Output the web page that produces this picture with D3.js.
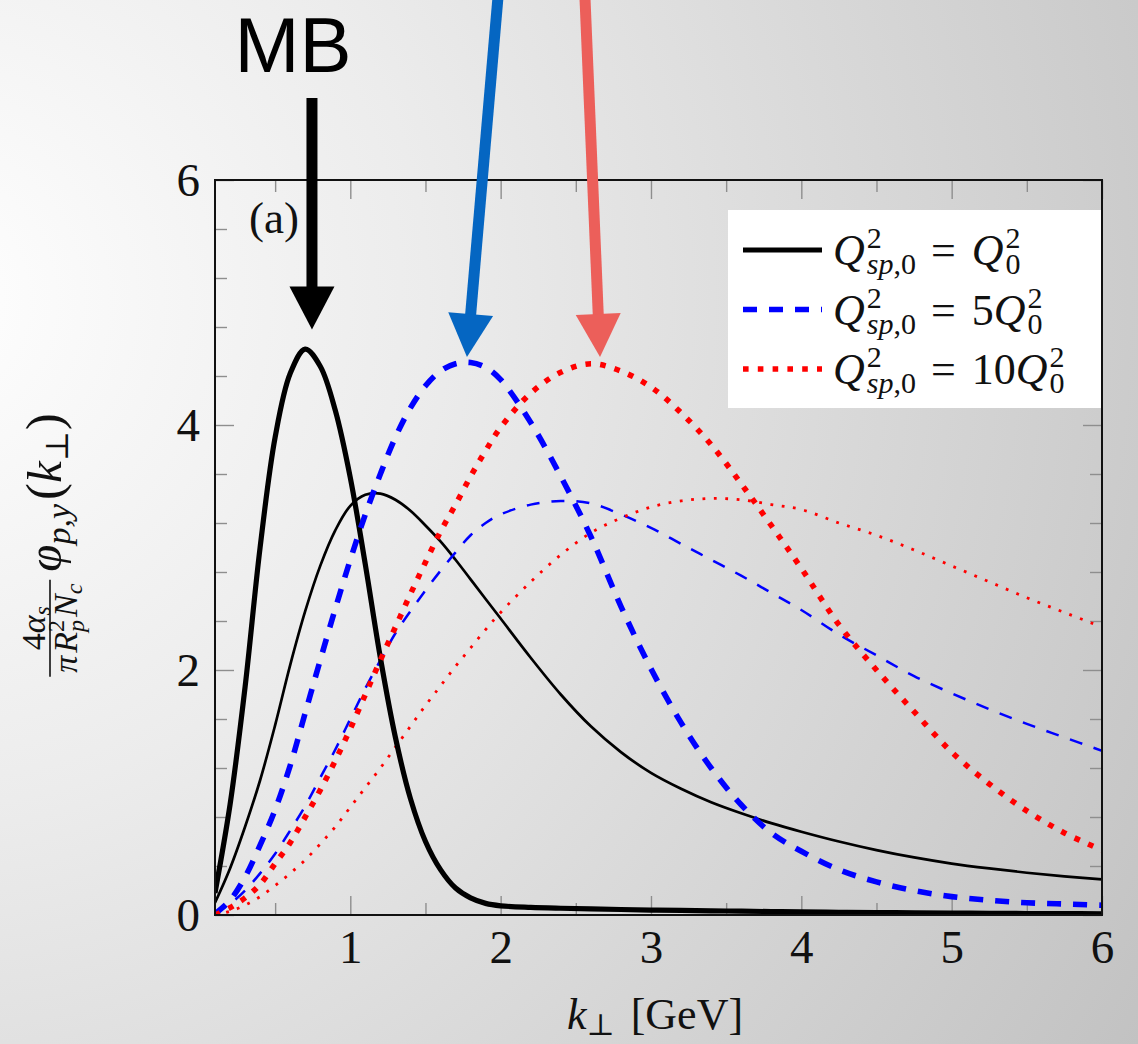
<!DOCTYPE html>
<html>
<head>
<meta charset="utf-8">
<script src="https://cdn.jsdelivr.net/npm/d3@7"></script>
<style>
  html, body { margin: 0; padding: 0; background: #ffffff; }
  svg { display: block; }
</style>
</head>
<body>
<svg id="chart" width="1138" height="1044"></svg>
<script>
// Transverse momentum grid (GeV) shared by every curve
const kPerp = [0.1, 0.2, 0.3, 0.4, 0.5, 0.6, 0.7, 0.8, 0.9, 1.0,
               1.1, 1.2, 1.3, 1.4, 1.5, 1.6, 1.7, 1.8, 1.9, 2.0,
               2.2, 2.4, 2.6, 2.8, 3.0, 3.2, 3.4, 3.6, 3.8, 4.0,
               4.25, 4.5, 4.75, 5.0, 5.25, 5.5, 5.75, 6.0];

// Q^2_{sp,0} = Q0^2  (thick: MB initial condition, thin: evolved)
const blackThick = [0.18, 0.9, 1.86, 3.0, 3.9, 4.42, 4.62, 4.48, 4.12, 3.57,
                    2.86, 2.1, 1.45, 0.95, 0.6, 0.37, 0.22, 0.14, 0.095, 0.075,
                    0.062, 0.055, 0.05, 0.045, 0.04, 0.037, 0.034, 0.031, 0.028, 0.025,
                    0.022, 0.02, 0.018, 0.016, 0.014, 0.012, 0.011, 0.01];
const blackThin = [0.1, 0.38, 0.72, 1.1, 1.55, 2.04, 2.48, 2.85, 3.14, 3.34,
                   3.43, 3.44, 3.39, 3.3, 3.18, 3.05, 2.9, 2.74, 2.58, 2.42,
                   2.1, 1.8, 1.54, 1.33, 1.16, 1.03, 0.92, 0.83, 0.75, 0.68,
                   0.6, 0.53, 0.47, 0.42, 0.38, 0.345, 0.315, 0.29];

// Q^2_{sp,0} = 5 Q0^2
const blueThick = [0.01, 0.12, 0.31, 0.57, 0.86, 1.22, 1.65, 2.08, 2.5, 2.9,
                   3.27, 3.6, 3.9, 4.14, 4.32, 4.44, 4.5, 4.51, 4.47, 4.37,
                   4.02, 3.58, 3.09, 2.52, 2.01, 1.57, 1.2, 0.9, 0.67, 0.52,
                   0.37, 0.27, 0.2, 0.15, 0.12, 0.1, 0.09, 0.08];
const blueThin = [0.01, 0.09, 0.2, 0.34, 0.5, 0.69, 0.89, 1.12, 1.35, 1.6,
                  1.85, 2.08, 2.3, 2.48, 2.65, 2.81, 2.96, 3.1, 3.2, 3.27,
                  3.35, 3.38, 3.36, 3.27, 3.16, 3.03, 2.9, 2.77, 2.63, 2.49,
                  2.29, 2.12, 1.95, 1.81, 1.68, 1.56, 1.45, 1.34];

// Q^2_{sp,0} = 10 Q0^2
const redThick = [0.0, 0.06, 0.14, 0.25, 0.42, 0.59, 0.8, 1.02, 1.26, 1.52,
                  1.8, 2.08, 2.35, 2.62, 2.88, 3.13, 3.35, 3.58, 3.79, 3.98,
                  4.26, 4.43, 4.5, 4.44, 4.31, 4.1, 3.84, 3.52, 3.18, 2.83,
                  2.37, 2.0, 1.66, 1.33, 1.07, 0.85, 0.67, 0.53];
const redThin = [0.0, 0.03, 0.08, 0.15, 0.24, 0.34, 0.45, 0.58, 0.72, 0.88,
                 1.04, 1.2, 1.37, 1.54, 1.71, 1.87, 2.03, 2.18, 2.33, 2.47,
                 2.72, 2.94, 3.12, 3.24, 3.33, 3.38, 3.4, 3.39, 3.35, 3.31,
                 3.2, 3.1, 2.98, 2.85, 2.72, 2.59, 2.47, 2.35];

// Axis ticks
const xMajorTicks = [1, 2, 3, 4, 5, 6];
const xMinorTicks = [0.5, 1.5, 2.5, 3.5, 4.5, 5.5];
const yMajorTicks = [0, 2, 4, 6];
const yMinorTicks = [0.4, 0.8, 1.2, 1.6, 2.4, 2.8, 3.2, 3.6, 4.4, 4.8, 5.2, 5.6];

// Legend coefficients in front of Q0^2
const legendCoef = ["", "5", "10"];

// Arrow annotations (data coordinates of tail and tip)
const arrowLabels = ["MB", "", ""];
const arrowTailK = [0.745, 1.992, 2.556];
const arrowTailV = [6.67, 7.63, 7.63];
const arrowTipK = [0.745, 1.776, 2.661];
const arrowTipV = [4.78, 4.555, 4.555];

const W = 1138, H = 1044;
const plot = { left: 215, right: 1102, top: 180, bottom: 915 };
const serif = "'Liberation Serif', 'DejaVu Serif', serif";

const svg = d3.select("#chart").attr("font-family", serif);
const defs = svg.append("defs");

// Soft grey backdrop
const grad = defs.append("radialGradient").attr("id", "bg")
  .attr("gradientUnits", "userSpaceOnUse")
  .attr("cx", -80).attr("cy", 300).attr("r", 1450);
grad.append("stop").attr("offset", 0).attr("stop-color", "#ffffff");
grad.append("stop").attr("offset", 0.35).attr("stop-color", "#ececec");
grad.append("stop").attr("offset", 1).attr("stop-color", "#c1c1c1");
svg.append("rect").attr("width", W).attr("height", H).attr("fill", "url(#bg)");

defs.append("clipPath").attr("id", "plotClip").append("rect")
  .attr("x", plot.left).attr("y", plot.top)
  .attr("width", plot.right - plot.left).attr("height", plot.bottom - plot.top);

const x = d3.scaleLinear().domain([0.1, 6]).range([plot.left, plot.right]);
const y = d3.scaleLinear().domain([0, 6]).range([plot.bottom, plot.top]);

// ---- ticks on all four sides, pointing inward ----
const tickColor = "#8e8e8e";
function styleAxis(g) {
  g.select(".domain").remove();
  g.selectAll(".tick line").attr("stroke", tickColor).attr("stroke-width", 1.4);
  g.selectAll(".tick text").attr("fill", "#111").attr("font-family", serif).attr("font-size", 47);
}
const major = 19, minor = 12;

svg.append("g").attr("transform", `translate(0,${plot.bottom})`)
  .call(d3.axisBottom(x).tickValues(xMinorTicks).tickSize(-minor).tickFormat(""))
  .call(styleAxis);
svg.append("g").attr("transform", `translate(0,${plot.bottom})`)
  .call(d3.axisBottom(x).tickValues(xMajorTicks).tickSize(-major).tickPadding(15).tickFormat(d3.format("d")))
  .call(styleAxis);
svg.append("g").attr("transform", `translate(0,${plot.top})`)
  .call(d3.axisTop(x).tickValues(xMinorTicks).tickSize(-minor).tickFormat(""))
  .call(styleAxis);
svg.append("g").attr("transform", `translate(0,${plot.top})`)
  .call(d3.axisTop(x).tickValues(xMajorTicks).tickSize(-major).tickFormat(""))
  .call(styleAxis);

svg.append("g").attr("transform", `translate(${plot.left},0)`)
  .call(d3.axisLeft(y).tickValues(yMinorTicks).tickSize(-minor).tickFormat(""))
  .call(styleAxis);
svg.append("g").attr("transform", `translate(${plot.left},0)`)
  .call(d3.axisLeft(y).tickValues(yMajorTicks).tickSize(-major).tickPadding(15).tickFormat(d3.format("d")))
  .call(styleAxis);
svg.append("g").attr("transform", `translate(${plot.right},0)`)
  .call(d3.axisRight(y).tickValues(yMinorTicks).tickSize(-minor).tickFormat(""))
  .call(styleAxis);
svg.append("g").attr("transform", `translate(${plot.right},0)`)
  .call(d3.axisRight(y).tickValues(yMajorTicks).tickSize(-major).tickFormat(""))
  .call(styleAxis);

// ---- curves ----
const series = [
  { values: blackThin,  color: "#000000", width: 2.7, dash: null },
  { values: blueThin,   color: "#0000ff", width: 2.5, dash: "13,12" },
  { values: redThin,    color: "#ff0000", width: 2.8, dash: "2.8,8.6" },
  { values: blackThick, color: "#000000", width: 5.2, dash: null },
  { values: blueThick,  color: "#0000ff", width: 5.6, dash: "14,12" },
  { values: redThick,   color: "#ff0000", width: 5.6, dash: "5.6,9.2" }
];

const line = d3.line()
  .x((d, i) => x(kPerp[i]))
  .y(d => y(d))
  .curve(d3.curveCatmullRom.alpha(0.5));

const curves = svg.append("g").attr("clip-path", "url(#plotClip)");
curves.selectAll("path").data(series).join("path")
  .attr("d", d => line(d.values))
  .attr("fill", "none")
  .attr("stroke", d => d.color)
  .attr("stroke-width", d => d.width)
  .attr("stroke-dasharray", d => d.dash)
  .attr("stroke-linejoin", "round");

// ---- helper: one <text> holding math-like runs as positioned tspans ----
// run fields: t text, s size, it italic, dy baseline shift, pad/padAfter spacing,
// mark = remember start (superscript), back = start at mark (stacked subscript),
// cont = continue right after the previous run.
function drawRuns(g, runs, x0, y0) {
  const text = g.append("text").attr("fill", "#111");
  let far = x0, pen = x0, mark = x0;
  for (const r of runs) {
    if (!r.t) continue;
    let xs = r.back ? mark : (r.cont ? pen : far);
    xs += r.pad || 0;
    if (r.mark) mark = xs;
    const ts = text.append("tspan")
      .attr("x", xs).attr("y", y0 + (r.dy || 0))
      .attr("font-size", r.s)
      .attr("font-style", r.it ? "italic" : "normal")
      .text(r.t);
    const w = ts.node().getComputedTextLength();
    pen = xs + w + (r.padAfter || 0);
    far = Math.max(far, pen);
  }
  return far - x0;
}

// ---- legend ----
const legend = svg.append("g");
legend.append("rect").attr("x", 728).attr("y", 210).attr("width", plot.right - 728).attr("height", 198)
  .attr("fill", "#ffffff");
const legendStyles = series.slice(3);
legendStyles.forEach((s, i) => {
  const cy = 250 + i * 59.5;
  legend.append("line").attr("x1", 743).attr("x2", 822).attr("y1", cy).attr("y2", cy)
    .attr("stroke", s.color).attr("stroke-width", s.width).attr("stroke-dasharray", s.dash);
  drawRuns(legend, [
    { t: "Q", s: 44, it: true },
    { t: "2", s: 30, dy: -17, mark: true, pad: 2 },
    { t: "sp", s: 30, it: true, dy: 9, back: true },
    { t: ",0", s: 30, dy: 9, cont: true },
    { t: "=", s: 44, pad: 15, padAfter: 16 },
    { t: legendCoef[i], s: 44 },
    { t: "Q", s: 44, it: true },
    { t: "2", s: 30, dy: -17, mark: true, pad: 2 },
    { t: "0", s: 30, dy: 9, back: true }
  ], 833, cy + 15);
});

// ---- frame ----
svg.append("rect")
  .attr("x", plot.left).attr("y", plot.top)
  .attr("width", plot.right - plot.left).attr("height", plot.bottom - plot.top)
  .attr("fill", "none").attr("stroke", "#111").attr("stroke-width", 2);

// panel tag
svg.append("text").attr("x", 249).attr("y", 233).attr("font-size", 45).attr("fill", "#111").text("(a)");

// ---- x-axis title ----
const xTitle = svg.append("g");
const xw = drawRuns(xTitle, [
  { t: "k", s: 44, it: true },
  { t: "\u22A5", s: 30, dy: 6 },
  { t: "[GeV]", s: 44, pad: 16 }
], 0, 1029);
xTitle.attr("transform", `translate(${655 - xw / 2},0)`);

// ---- y-axis title (rotated) ----
const yTitle = svg.append("g").attr("transform", "translate(61,545) rotate(-90)");
const yInner = yTitle.append("g");
const num = yInner.append("g"), den = yInner.append("g");
const numW = drawRuns(num, [
  { t: "4", s: 34 },
  { t: "\u03B1", s: 34, it: true },
  { t: "s", s: 24, it: true, dy: 5 }
], 0, -16);
const denW = drawRuns(den, [
  { t: "\u03C0", s: 34, it: true },
  { t: "R", s: 34, it: true, pad: 3 },
  { t: "2", s: 24, dy: -13, mark: true },
  { t: "p", s: 24, it: true, dy: 7, back: true },
  { t: "N", s: 34, it: true, pad: 3 },
  { t: "c", s: 24, it: true, dy: 5 }
], 0, 16);
const fracW = Math.max(numW, denW) + 8;
num.attr("transform", `translate(${(fracW - numW) / 2},0)`);
den.attr("transform", `translate(${(fracW - denW) / 2},0)`);
yInner.append("line").attr("x1", 0).attr("x2", fracW).attr("y1", -11).attr("y2", -11)
  .attr("stroke", "#111").attr("stroke-width", 1.6);
const mainW = drawRuns(yInner, [
  { t: "\u03C6", s: 49, it: true, pad: fracW + 8 },
  { t: "p,y", s: 34, it: true, dy: 9 },
  { t: "(", s: 51, pad: 4 },
  { t: "k", s: 49, it: true },
  { t: "\u22A5", s: 32, dy: 7 },
  { t: ")", s: 51, pad: 1 }
], 0, 0);
yInner.attr("transform", `translate(${-mainW / 2},0)`);

// ---- arrows pointing at the peaks ----
const arrowColors = ["#000000", "#0566c2", "#ec5f5a"];
const arrows = svg.append("g");
arrowTipK.forEach((k, i) => {
  const x0 = x(arrowTailK[i]), y0 = y(arrowTailV[i]);
  const x1 = x(k), y1 = y(arrowTipV[i]);
  const len = Math.hypot(x1 - x0, y1 - y0);
  const ux = (x1 - x0) / len, uy = (y1 - y0) / len;
  const headL = 43, headHW = 22.5;
  const bx = x1 - ux * headL, by = y1 - uy * headL;
  arrows.append("line")
    .attr("x1", x0).attr("y1", y0).attr("x2", bx + ux * 2).attr("y2", by + uy * 2)
    .attr("stroke", arrowColors[i]).attr("stroke-width", 11);
  arrows.append("path")
    .attr("d", `M${x1},${y1}L${bx - uy * headHW},${by + ux * headHW}L${bx + uy * headHW},${by - ux * headHW}Z`)
    .attr("fill", arrowColors[i]);
  if (arrowLabels[i]) {
    arrows.append("text")
      .attr("x", x0 - 19).attr("y", 72)
      .attr("text-anchor", "middle")
      .attr("font-family", "'Liberation Sans', Arial, sans-serif")
      .attr("font-size", 78).attr("fill", "#000")
      .text(arrowLabels[i]);
  }
});
</script>
</body>
</html>
